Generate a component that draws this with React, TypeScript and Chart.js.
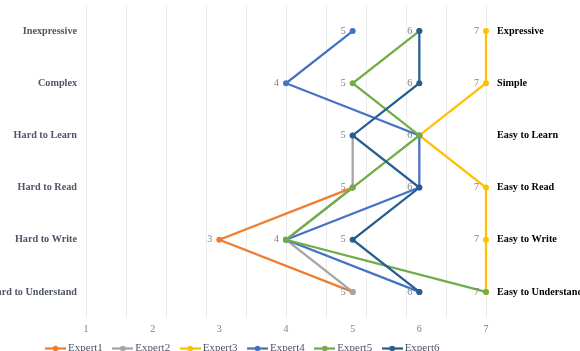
import React, { useEffect, useRef } from "react";
import { Chart, registerables } from "chart.js";

Chart.register(...registerables);

const leftLabels = ["Inexpressive", "Complex", "Hard to Learn", "Hard to Read", "Hard to Write", "Hard to Understand"];
const rightLabels = ["Expressive", "Simple", "Easy to Learn", "Easy to Read", "Easy to Write", "Easy to Understand"];
const xTicks = [1, 2, 3, 4, 5, 6, 7];

const seriesNames = ["Expert1", "Expert2", "Expert3", "Expert4", "Expert5", "Expert6"];
const expert1 = [null, null, null, 5, 3, 5];
const expert2 = [null, null, 5, 5, 4, 5];
const expert3 = [7, 7, 6, 7, 7, 7];
const expert4 = [5, 4, 6, 6, 4, 6];
const expert5 = [6, 5, 6, 5, 4, 7];
const expert6 = [6, 6, 5, 6, 5, 6];
const seriesValues = [expert1, expert2, expert3, expert4, expert5, expert6];
const seriesColors = ["#ED7D31", "#A5A5A5", "#FFC000", "#4472C4", "#70AD47", "#255E91"];

const FONT = "'Liberation Serif', 'Times New Roman', serif";

function legendImage(color: string) {
  const c = document.createElement("canvas");
  c.width = 21;
  c.height = 7;
  const ctx = c.getContext("2d")!;
  ctx.strokeStyle = color;
  ctx.lineWidth = 2.25;
  ctx.beginPath();
  ctx.moveTo(0, 3.5);
  ctx.lineTo(21, 3.5);
  ctx.stroke();
  ctx.fillStyle = color;
  ctx.beginPath();
  ctx.arc(10.5, 3.5, 2.8, 0, Math.PI * 2);
  ctx.fill();
  return c;
}

const valueLabelPlugin = {
  id: "valueLabels",
  afterDatasetsDraw(chart: any) {
    const ctx = chart.ctx;
    const seen = new Set<string>();
    ctx.save();
    ctx.font = `10px ${FONT}`;
    ctx.fillStyle = "#7F7F7F";
    ctx.textAlign = "right";
    ctx.textBaseline = "middle";
    chart.data.datasets.forEach((ds: any, di: number) => {
      const meta = chart.getDatasetMeta(di);
      meta.data.forEach((pt: any, i: number) => {
        const v = ds.data[i];
        if (v === null || v === undefined) return;
        const key = i + ":" + v;
        if (seen.has(key)) return;
        seen.add(key);
        ctx.fillText(String(v), pt.x - 7, pt.y);
      });
    });
    ctx.restore();
  },
};

const legendShiftPlugin = {
  id: "legendShift",
  afterLayout(chart: any) {
    const lg = chart.legend;
    if (lg) {
      lg.left -= 46;
      lg.right -= 46;
      lg.top -= 6;
      lg.bottom -= 6;
    }
  },
};

function fixV(width: number) {
  return (scale: any) => {
    scale.width = width;
    scale.paddingTop = 0;
    scale.paddingBottom = 0;
  };
}

export default function App() {
  const ref = useRef<HTMLCanvasElement | null>(null);

  useEffect(() => {
    if (!ref.current) return;
    const datasets = seriesNames.map((name, i) => ({
      label: name,
      data: seriesValues[i],
      borderColor: seriesColors[i],
      backgroundColor: seriesColors[i],
      borderWidth: 2.25,
      pointRadius: 3,
      pointBorderWidth: 0,
      pointBackgroundColor: seriesColors[i],
      clip: false as any,
      spanGaps: false,
      order: seriesNames.length - i,
    }));

    const chart = new Chart(ref.current, {
      type: "line",
      data: { labels: leftLabels, datasets },
      plugins: [valueLabelPlugin, legendShiftPlugin],
      options: {
        animation: false,
        responsive: false,
        indexAxis: "y",
        layout: { padding: { top: 5, bottom: -19, left: 0, right: 0 } },
        scales: {
          x: {
            type: "linear",
            min: xTicks[0],
            max: xTicks[xTicks.length - 1],
            position: "bottom",
            afterBuildTicks: (scale: any) => {
              scale.ticks = xTicks.map((v) => ({ value: v }));
            },
            afterFit: (scale: any) => {
              scale.height = 18;
              scale.paddingLeft = 0;
              scale.paddingRight = 0;
            },
            ticks: { color: "#7F7F7F", font: { family: FONT, size: 10 }, padding: 5 },
            grid: { display: false, drawTicks: false },
            border: { display: false },
          },
          x2: {
            type: "linear",
            min: 0,
            max: 10,
            position: "top",
            afterFit: (scale: any) => {
              scale.height = 0;
              scale.paddingLeft = 0;
              scale.paddingRight = 0;
            },
            ticks: { display: false, stepSize: 1 },
            grid: { color: "#EDEDED", lineWidth: 1, drawTicks: false },
            border: { display: false },
          },
          y: {
            type: "category",
            labels: leftLabels,
            offset: true,
            position: "left",
            afterFit: fixV(86),
            ticks: { color: "#4F5568", font: { family: FONT, size: 10.2, weight: "bold" }, padding: 9 },
            grid: { display: false, drawTicks: false },
            border: { display: false },
          },
          y2: {
            type: "category",
            labels: rightLabels,
            offset: true,
            position: "right",
            afterFit: fixV(94),
            ticks: { color: "#000000", font: { family: FONT, size: 10.2, weight: "bold" }, padding: 11 },
            grid: { display: false, drawTicks: false },
            border: { display: false },
          },
        } as any,
        plugins: {
          tooltip: { enabled: false },
          legend: {
            position: "bottom",
            labels: {
              usePointStyle: true,
              pointStyleWidth: 14,
              boxHeight: 7,
              padding: 13,
              color: "#4F5568",
              font: { family: FONT, size: 11 },
              generateLabels: (ch: any) =>
                ch.data.datasets.map((ds: any, i: number) => ({
                  text: ds.label,
                  fillStyle: ds.borderColor,
                  strokeStyle: ds.borderColor,
                  lineWidth: 0,
                  pointStyle: legendImage(ds.borderColor),
                  hidden: false,
                  datasetIndex: i,
                  fontColor: "#4F5568",
                })),
            },
          },
        },
      } as any,
    });
    return () => chart.destroy();
  }, []);

  return (
    <div style={{ position: "absolute", left: 0, top: 0, width: 580, height: 351, background: "#fff" }}>
      <canvas ref={ref} width={580} height={351} style={{ width: 580, height: 351, display: "block" }} />
    </div>
  );
}
